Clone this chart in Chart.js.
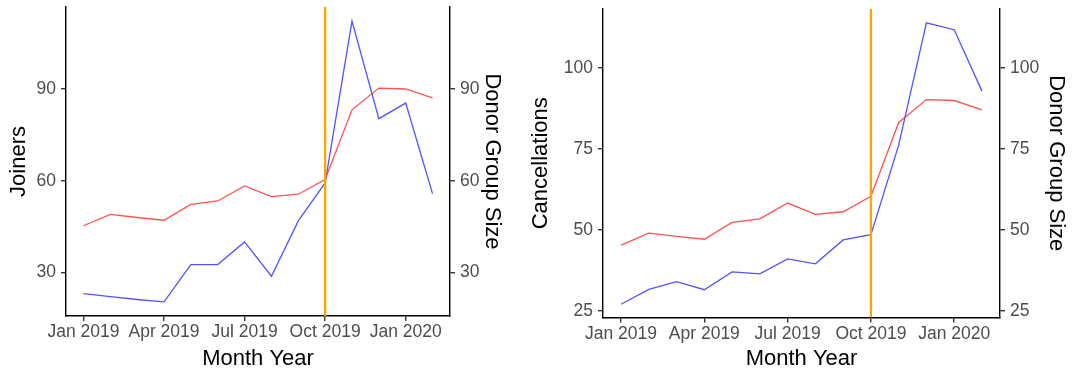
<!DOCTYPE html>
<html>
<head>
<meta charset="utf-8">
<script src="https://cdn.jsdelivr.net/npm/chart.js@4.4.1/dist/chart.umd.min.js"></script>
<style>
  html, body { margin: 0; padding: 0; background: #ffffff; }
  #wrap { position: relative; width: 1076px; height: 375px; overflow: hidden; }
  canvas { position: absolute; top: 0; }
  #joinersChart { left: 0; }
  #cancelChart { left: 516px; }
</style>
</head>
<body>
<div id="wrap">
  <canvas id="joinersChart" width="516" height="375"></canvas>
  <canvas id="cancelChart" width="560" height="375"></canvas>
</div>
<script>
// Monthly series, Jan 2019 – Feb 2020
const months = ['Jan 2019', 'Feb 2019', 'Mar 2019', 'Apr 2019', 'May 2019', 'Jun 2019', 'Jul 2019',
                'Aug 2019', 'Sep 2019', 'Oct 2019', 'Nov 2019', 'Dec 2019', 'Jan 2020', 'Feb 2020'];
const tickMonths = ['Jan 2019', 'Apr 2019', 'Jul 2019', 'Oct 2019', 'Jan 2020'];
const eventMonth = 'Oct 2019';

const donorGroupSize = [45.3, 49.0, 48.0, 47.1, 52.3, 53.4, 58.3, 54.8, 55.6, 60.4, 83.2, 90.3, 90.0, 87.1];
const joiners        = [23.1, 22.1, 21.2, 20.4, 32.6, 32.6, 40.0, 28.8, 46.9, 59.3, 112.2, 80.3, 85.4, 55.8];
const cancellations  = [27.0, 31.6, 34.0, 31.5, 37.0, 36.4, 41.0, 39.5, 46.9, 48.5, 76.2, 114.0, 111.9, 92.9];

const joinerTicks = [30, 60, 90];
const cancelTicks = [25, 50, 75, 100];
const joinerRange = [15.8, 116.8];
const cancelRange = [22.9, 118.3];

Chart.defaults.font.family = '"Liberation Sans", Arial, Helvetica, sans-serif';

const TICK_FONT = { size: 17.5 };
const TITLE_FONT = { size: 22 };
const TICK_COLOR = '#4d4d4d';

const toPoints = vals => vals.map((v, i) => ({ x: i, y: v }));

function axisLook() {
  return {
    grid: { drawOnChartArea: false, drawTicks: true, tickLength: 5, color: '#333333', lineWidth: 1.4 },
    border: { display: true, color: '#000000', width: 1.4 }
  };
}

function yAxis(position, range, tickVals, title, titlePad, width) {
  return Object.assign(axisLook(), {
    type: 'linear',
    position: position,
    min: range[0],
    max: range[1],
    afterBuildTicks: s => { s.ticks = tickVals.map(v => ({ value: v })); },
    ticks: { color: TICK_COLOR, font: TICK_FONT, padding: 5 },
    title: { display: true, text: title, color: '#000000', font: TITLE_FONT, padding: { top: titlePad, bottom: 0 } },
    afterFit: s => { s.width = width; s.paddingTop = 0; s.paddingBottom = 0; }
  });
}

function makePanel(id, series, leftTitle, range, tickVals, opts) {
  const eventIdx = months.indexOf(eventMonth);
  new Chart(document.getElementById(id), {
    type: 'line',
    data: {
      datasets: [
        {
          label: 'event',
          data: [{ x: eventIdx, y: range[0] }, { x: eventIdx, y: range[1] }],
          borderColor: '#FFA500',
          borderWidth: 2.3,
          yAxisID: 'y',
          order: 0
        },
        {
          label: 'Donor Group Size',
          data: toPoints(donorGroupSize),
          borderColor: 'rgba(255, 40, 40, 0.8)',
          borderWidth: 1.3,
          yAxisID: 'y2',
          order: 1
        },
        {
          label: leftTitle,
          data: toPoints(series),
          borderColor: 'rgba(40, 40, 255, 0.8)',
          borderWidth: 1.3,
          yAxisID: 'y',
          order: 1
        }
      ]
    },
    options: {
      responsive: false,
      animation: false,
      events: [],
      layout: { padding: { top: opts.top, left: 0, right: 0, bottom: 0 } },
      elements: { point: { radius: 0 }, line: { tension: 0 } },
      plugins: { legend: { display: false }, tooltip: { enabled: false } },
      scales: {
        x: Object.assign(axisLook(), {
          type: 'linear',
          min: -0.65,
          max: months.length - 1 + 0.65,
          afterBuildTicks: s => { s.ticks = tickMonths.map(m => ({ value: months.indexOf(m) })); },
          ticks: { color: TICK_COLOR, font: TICK_FONT, padding: 1, maxRotation: 0, autoSkip: false,
                   callback: v => months[v] },
          title: { display: true, text: 'Month Year', color: '#000000', font: TITLE_FONT, padding: { top: 0, bottom: 3 } },
          afterFit: s => { s.height = opts.xHeight; s.paddingLeft = 0; s.paddingRight = 0; }
        }),
        y: yAxis('left', range, tickVals, leftTitle, opts.leftPad, opts.leftWidth),
        y2: yAxis('right', range, tickVals, 'Donor Group Size', opts.rightPad, opts.rightWidth)
      }
    }
  });
}

makePanel('joinersChart', joiners, 'Joiners', joinerRange, joinerTicks,
          { top: 7, xHeight: 59, leftWidth: 66, rightWidth: 66, leftPad: 6, rightPad: 11 });
makePanel('cancelChart', cancellations, 'Cancellations', cancelRange, cancelTicks,
          { top: 9, xHeight: 57.5, leftWidth: 87, rightWidth: 76, leftPad: 12, rightPad: 7 });
</script>
</body>
</html>
